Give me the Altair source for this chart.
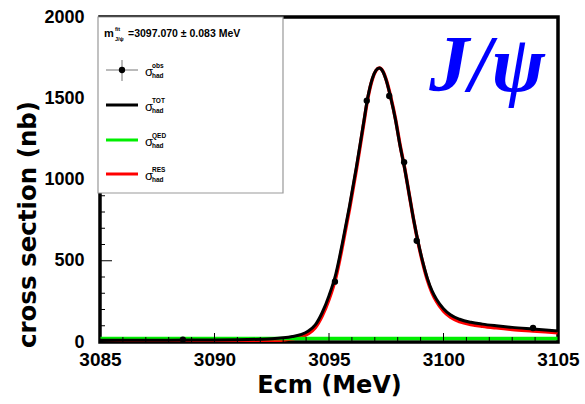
import altair as alt
import pandas as pd

# ---- data ----
energy = [3085.0, 3087.0, 3089.0, 3090.0, 3091.0, 3092.0, 3092.5, 3093.0, 3093.4, 3093.8,
          3094.1, 3094.4, 3094.7, 3095.0, 3095.3, 3095.6, 3095.9, 3096.2, 3096.5, 3096.7,
          3096.9, 3097.05, 3097.2, 3097.35, 3097.5, 3097.7, 3097.9, 3098.1, 3098.3, 3098.5,
          3098.7, 3098.9, 3099.1, 3099.3, 3099.5, 3099.7, 3100.0, 3100.3, 3100.7, 3101.2,
          3101.7, 3102.3, 3103.0, 3103.9, 3105.0]
sigma_tot = [10, 11, 12, 13, 14, 17, 20, 26, 34, 47,
             68, 105, 180, 285, 420, 620, 840, 1080, 1340, 1510,
             1625, 1672, 1686, 1665, 1610, 1500, 1370, 1210, 1070, 910,
             750, 610, 490, 390, 315, 262, 205, 168, 140, 121,
             110, 100, 90, 80, 68]
sigma_res = [2, 2, 3, 3, 4, 6, 9, 13, 20, 32,
             52, 88, 160, 262, 398, 600, 822, 1065, 1330, 1503,
             1620, 1670, 1686, 1667, 1613, 1505, 1375, 1215, 1073, 910,
             748, 605, 483, 380, 303, 248, 190, 153, 126, 108,
             97, 87, 77, 68, 57]
qed_energy = [3085.0, 3105.0]
sigma_qed = [22, 22]

obs_energy = [3088.62, 3095.26, 3096.65, 3097.63, 3098.28, 3098.83, 3103.91]
obs_sigma = [15, 371, 1485, 1514, 1106, 623, 86]

x_major = [3085, 3090, 3095, 3100, 3105]
x_minor = [3086, 3087, 3088, 3089, 3091, 3092, 3093, 3094, 3096, 3097, 3098, 3099,
           3101, 3102, 3103, 3104]
y_major = [500, 1000, 1500]
y_minor = [100, 200, 300, 400, 600, 700, 800, 900, 1100, 1200, 1300, 1400,
           1600, 1700, 1800, 1900]

W, H = 458, 325
SANS = "Liberation Sans"

xs = alt.Scale(domain=[3085, 3105], nice=False, zero=False)
ys = alt.Scale(domain=[0, 2000], nice=False)

xaxis = alt.Axis(values=x_major, format="d", ticks=False, grid=False, domain=False,
                 labelFont=SANS, labelFontWeight="bold", labelFontSize=19,
                 labelColor="black", labelPadding=8, labelFlush=False, labelOverlap=False,
                 labelBound=False,
                 title="Ecm (MeV)", titleFont="DejaVu Sans", titleFontWeight="bold",
                 titleFontSize=24, titleColor="black", titleY=43, titleBaseline="middle")
yaxis = alt.Axis(values=[0, 500, 1000, 1500, 2000], format="d", ticks=False, grid=False,
                 domain=False, labelFont=SANS, labelFontWeight="bold", labelFontSize=18,
                 labelColor="black", labelPadding=16, labelFlush=False, labelOverlap=False,
                 labelBound=False,
                 title="cross section (nb)", titleFont="DejaVu Sans", titleFontWeight="bold",
                 titleFontSize=24.5, titleColor="black", titleX=-72, titleY=207,
                 titleAngle=270, titleAlign="center", titleBaseline="middle")

curves = pd.DataFrame({"E": energy, "tot": sigma_tot, "res": sigma_res})
qed = pd.DataFrame({"E": qed_energy, "qed": sigma_qed})
obs = pd.DataFrame({"E": obs_energy, "s": obs_sigma})

base = alt.Chart(curves)
red = base.mark_line(color="#ff0000", strokeWidth=3.5, interpolate="monotone", clip=True).encode(
    x=alt.X("E:Q", scale=xs, axis=xaxis), y=alt.Y("res:Q", scale=ys, axis=yaxis))
green = alt.Chart(qed).mark_line(color="#00ee00", strokeWidth=3.5, clip=True).encode(
    x=alt.X("E:Q", scale=xs), y=alt.Y("qed:Q", scale=ys))
black = base.mark_line(color="black", strokeWidth=3, interpolate="monotone", clip=True).encode(
    x=alt.X("E:Q", scale=xs), y=alt.Y("tot:Q", scale=ys))
pts = alt.Chart(obs).mark_point(filled=True, color="black", size=40, opacity=1).encode(
    x=alt.X("E:Q", scale=xs), y=alt.Y("s:Q", scale=ys))

xt_major = alt.Chart(pd.DataFrame({"t": x_major})).mark_rule(color="black", strokeWidth=1).encode(
    x=alt.X("t:Q", scale=xs), y=alt.value(H), y2=alt.value(H - 9))
xt_minor = alt.Chart(pd.DataFrame({"t": x_minor})).mark_rule(color="black", strokeWidth=1).encode(
    x=alt.X("t:Q", scale=xs), y=alt.value(H), y2=alt.value(H - 5))
yt_major = alt.Chart(pd.DataFrame({"t": y_major})).mark_rule(color="black", strokeWidth=1).encode(
    y=alt.Y("t:Q", scale=ys), x=alt.value(0), x2=alt.value(12))
yt_minor = alt.Chart(pd.DataFrame({"t": y_minor})).mark_rule(color="black", strokeWidth=1).encode(
    y=alt.Y("t:Q", scale=ys), x=alt.value(0), x2=alt.value(5))

# ---- hand-made legend box ----
box = alt.Chart(pd.DataFrame({"a": [0]})).mark_rect(fill="white", stroke="#999999", strokeWidth=1.2).encode(
    x=alt.value(-2), x2=alt.value(183), y=alt.value(0), y2=alt.value(176))


def txt(s, x, y, size, align="left", weight="bold", font=SANS, color="black", style="normal"):
    return alt.Chart(pd.DataFrame({"a": [0]})).mark_text(
        text=s, align=align, baseline="middle", fontSize=size, fontWeight=weight,
        font=font, color=color, fontStyle=style).encode(x=alt.value(x), y=alt.value(y))


def hline(x1, x2, y, color, w):
    return alt.Chart(pd.DataFrame({"a": [0]})).mark_rule(color=color, strokeWidth=w).encode(
        x=alt.value(x1), x2=alt.value(x2), y=alt.value(y))


leg = [box,
       txt("m", 4, 17, 11),
       txt("fit", 15, 12, 5.5),
       txt("J/ψ", 15, 22, 5.5),
       txt("=3097.070 ± 0.083 MeV", 28, 17, 10.5),
       hline(6, 38, 53, "#777777", 1),
       alt.Chart(pd.DataFrame({"a": [0]})).mark_rule(color="#777777", strokeWidth=1).encode(
           x=alt.value(22), y=alt.value(43), y2=alt.value(64)),
       alt.Chart(pd.DataFrame({"a": [0]})).mark_point(filled=True, color="black", size=40, opacity=1).encode(
           x=alt.value(22), y=alt.value(53)),
       hline(6, 38, 88, "black", 3),
       hline(6, 38, 123, "#00ee00", 3),
       hline(6, 38, 157, "#ff0000", 3)]
for yy, sup in [(55, "obs"), (90, "TOT"), (125, "QED"), (159, "RES")]:
    leg += [txt("σ", 45, yy, 13, weight="normal"),
            txt(sup, 52, yy - 6, 6.5),
            txt("had", 52, yy + 4, 6.5)]

jpsi = txt("J/ψ", 387, 50, 80, align="center", font="Liberation Serif",
           color="#0000ff", style="italic")

chart = alt.layer(
    red, green, black, pts, xt_major, xt_minor, yt_major, yt_minor, *leg, jpsi
).properties(
    width=W, height=H,
    autosize=alt.AutoSizeParams(type="none"),
    padding={"left": 100, "top": 17, "right": 585 - 100 - W, "bottom": 404 - 17 - H},
    background="white",
).configure_view(stroke="black", strokeWidth=3.5)

chart.save("out.html", embed_options={"renderer": "svg", "actions": False})
